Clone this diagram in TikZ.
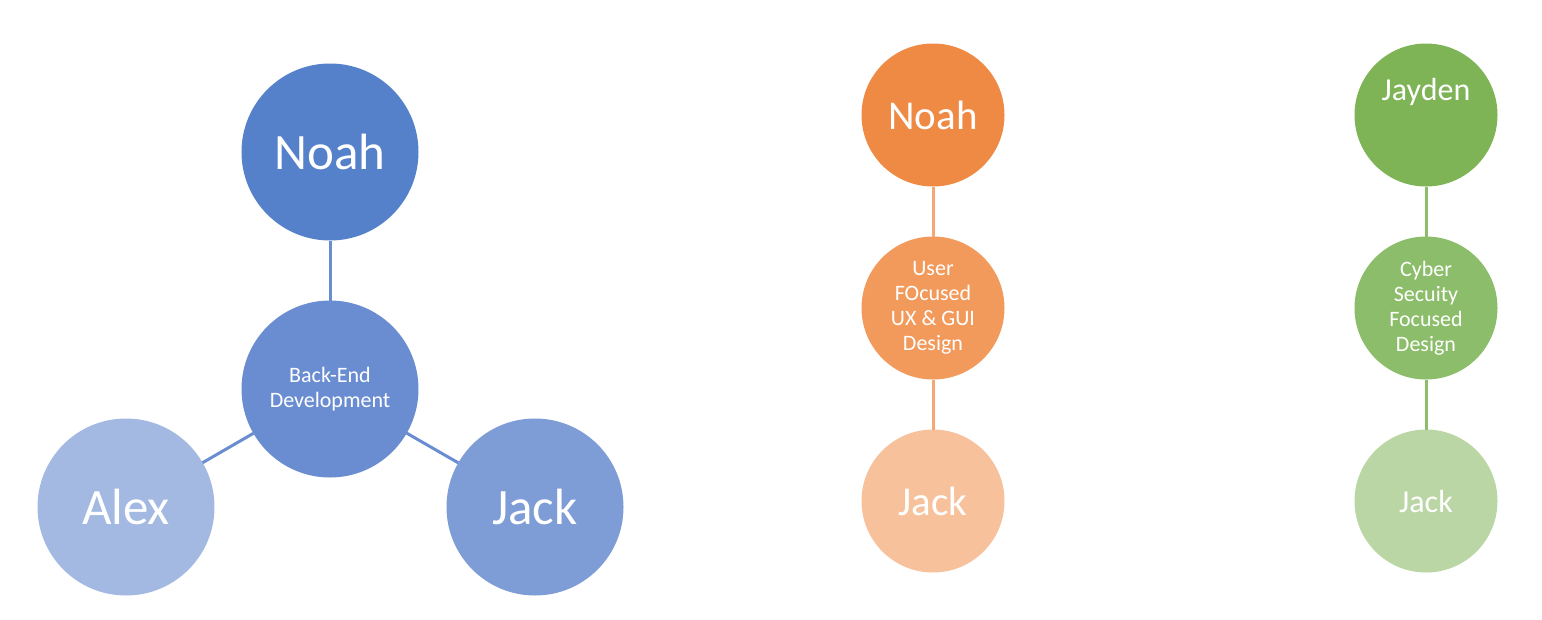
\documentclass[tikz,border=0pt]{standalone}
\usepackage{fontspec}
\setmainfont{Carlito}
\usetikzlibrary{positioning}
\definecolor{bluedark}{HTML}{5581CA}
\definecolor{bluemid}{HTML}{6A8DD2}
\definecolor{bluejack}{HTML}{7E9CD6}
\definecolor{bluelight}{HTML}{A3B9E2}
\definecolor{orangedark}{HTML}{EF8A44}
\definecolor{orangemid}{HTML}{F29A5C}
\definecolor{orangelight}{HTML}{F7C19C}
\definecolor{greendark}{HTML}{7EB356}
\definecolor{greenmid}{HTML}{8CBD6A}
\definecolor{greenlight}{HTML}{BAD6A5}
\tikzset{
 bubble/.style={circle, inner sep=0, outer sep=0, text=white, align=center},
 bigbubble/.style={bubble, minimum size=177pt, font=\fontsize{51}{60}\selectfont},
 smallbubble/.style={bubble, minimum size=143pt},
 topic/.style={font=\fontsize{22}{25}\selectfont},
 link/.style={line width=3pt}
}

\begin{document}
\begin{tikzpicture}[x=1pt, y=-1pt]
\useasboundingbox (0,0) rectangle (1542,619);

% back-end team
\node[bigbubble, fill=bluedark] (bnoah) at (330,152) {Noah};
\node[bigbubble, fill=bluemid, topic] (bcore) at (330,389) {Back-End\\Development};
\node[bigbubble, fill=bluelight] (balex) at (126,507) {Alex};
\node[bigbubble, fill=bluejack] (bjack) at (535,507) {Jack};
\foreach \n in {bnoah, balex, bjack}
 \draw[link, bluemid] (bcore) -- (\n);

% ux team
\node[smallbubble, fill=orangedark, font=\fontsize{41}{50}\selectfont] (onoah) at (933,115) {Noah};
\node[smallbubble, fill=orangemid, topic, below=50pt of onoah] (ocore) {User\\FOcused\\UX \& GUI\\Design};
\node[smallbubble, fill=orangelight, font=\fontsize{41}{50}\selectfont, below=50pt of ocore] (ojack) {Jack};
\draw[link, orangemid!85!white] (onoah) -- (ocore);
\draw[link, orangemid!85!white] (ocore) -- (ojack);

% security team
\node[smallbubble, fill=greendark, label={[text=white, font=\fontsize{32}{40}\selectfont, yshift=23pt]center:Jayden}] (gjayden) at (1426,115) {};
\node[smallbubble, fill=greenmid, topic, below=50pt of gjayden] (gcore) {Cyber\\Secuity\\Focused\\Design};
\node[smallbubble, fill=greenlight, font=\fontsize{32}{40}\selectfont, below=50pt of gcore] (gjack) {Jack};
\draw[link, greenmid] (gjayden) -- (gcore);
\draw[link, greenmid] (gcore) -- (gjack);
\end{tikzpicture}
\end{document}
